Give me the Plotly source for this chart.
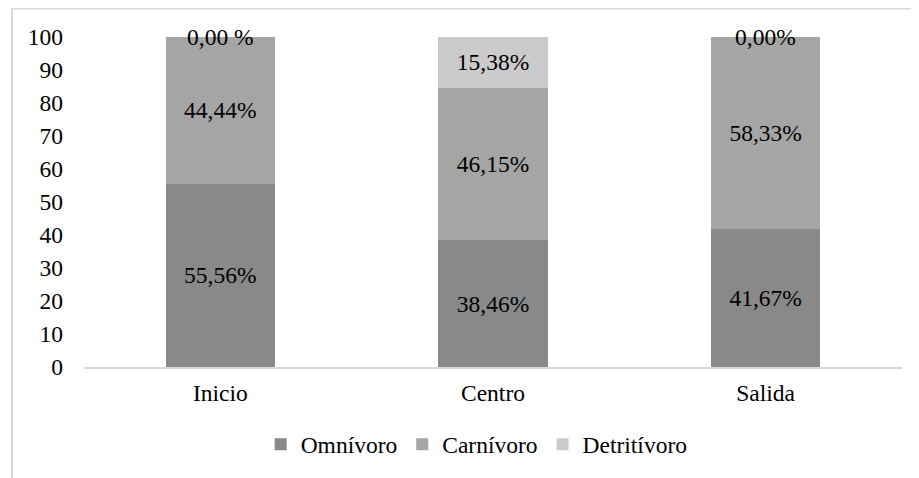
import plotly.graph_objects as go

categories = ["Inicio", "Centro", "Salida"]
omnivoro = [55.56, 38.46, 41.67]
carnivoro = [44.44, 46.15, 58.33]
detritivoro = [0.0, 15.38, 0.0]
omn_labels = ["55,56%", "38,46%", "41,67%"]
car_labels = ["44,44%", "46,15%", "58,33%"]
det_labels = ["0,00 %", "15,38%", "0,00%"]
y_ticks = [0, 10, 20, 30, 40, 50, 60, 70, 80, 90, 100]

FONT = "'Liberation Serif', Tinos, 'Times New Roman', Times, 'DejaVu Serif', serif"
FS = 23.5
colors = {"Omnívoro": "#898989", "Carnívoro": "#a5a5a5", "Detritívoro": "#cbcbcb"}

fig = go.Figure()
for name, vals, labs in [("Omnívoro", omnivoro, omn_labels),
                         ("Carnívoro", carnivoro, car_labels),
                         ("Detritívoro", detritivoro, det_labels)]:
    texts = [l if v > 0 else "" for v, l in zip(vals, labs)]
    fig.add_trace(go.Bar(
        x=categories, y=vals, name=name, marker=dict(color=colors[name], line=dict(width=0)),
        text=texts, textposition="inside", insidetextanchor="middle", textangle=0,
        constraintext="none", insidetextfont=dict(family=FONT, size=FS, color="#000000"),
        hoverinfo="skip",
    ))

# labels for zero-height segments
for i, cat in enumerate(categories):
    if detritivoro[i] == 0:
        top = omnivoro[i] + carnivoro[i] + detritivoro[i]
        fig.add_annotation(x=cat, y=top, text=det_labels[i], showarrow=False,
                           yanchor="middle", font=dict(family=FONT, size=FS, color="#000000"))

# outer frame (light gray); page has 8px body margin, figure is 911x470
frame = "#d9d9d9"
PL, PT, PW, PH = 76, 29, 818, 330
def px(x):
    return (x - PL) / PW
def py(y):
    return 1 - (y - PT) / PH
fig.add_shape(type="line", xref="paper", yref="paper", x0=px(4), x1=px(920), y0=py(0.5), y1=py(0.5),
              line=dict(color=frame, width=2))
fig.add_shape(type="line", xref="paper", yref="paper", x0=px(4), x1=px(4), y0=py(0.5), y1=py(480),
              line=dict(color=frame, width=2))

fig.update_layout(
    barmode="stack", bargap=0.6,
    width=911, height=470,
    margin=dict(l=PL, r=17, t=PT, b=111),
    paper_bgcolor="white", plot_bgcolor="white",
    font=dict(family=FONT, size=FS, color="#000000"),
    showlegend=True,
    legend=dict(orientation="h", x=0.48, xanchor="center", y=-0.235, yanchor="middle",
                font=dict(family=FONT, size=FS, color="#000000"), traceorder="normal",
                itemclick=False, itemdoubleclick=False),
    xaxis=dict(showgrid=False, showline=True, linecolor="#d9d9d9", linewidth=2,
               ticks="", ticklabelstandoff=4, tickfont=dict(family=FONT, size=FS)),
    yaxis=dict(range=[0, 100], tickvals=y_ticks, showgrid=False, showline=False,
               zeroline=False, ticks="", ticklabelstandoff=20,
               tickfont=dict(family=FONT, size=FS)),
)

fig.write_html("out.html")
